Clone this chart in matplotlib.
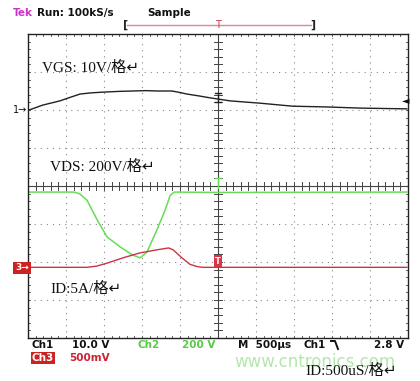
import matplotlib.pyplot as plt
import numpy as np

# screen divisions: x 0..10, y -4..4 (centre = 0)
vgs_x = [0.03, 0.39, 0.84, 1.10, 1.37, 1.65, 1.97, 2.40, 2.76, 3.10, 3.39, 3.79, 4.00, 4.18, 4.50, 4.79,
         5.32, 6.10, 6.97, 7.87, 8.74, 9.97]
vgs_y = [2.00, 2.13, 2.24, 2.33, 2.42, 2.45, 2.47, 2.49, 2.50, 2.51, 2.50, 2.50, 2.46, 2.42, 2.37, 2.32,
         2.24, 2.18, 2.10, 2.08, 2.05, 2.03]

vds_x = [0.03, 1.20, 1.35, 1.55, 1.82, 2.08, 2.42, 2.76, 2.95, 3.13, 3.39, 3.61, 3.74, 3.85, 5.0, 9.97]
vds_y = [-0.16, -0.16, -0.20, -0.37, -0.89, -1.34, -1.60, -1.82, -1.89, -1.74, -1.16, -0.63, -0.25, -0.16,
         -0.17, -0.16]

id_x = [0.03, 1.55, 1.80, 2.08, 2.50, 2.95, 3.39, 3.70, 3.82, 4.05, 4.26, 4.45, 4.60, 9.97]
id_y = [-2.14, -2.14, -2.11, -2.03, -1.89, -1.76, -1.68, -1.63, -1.68, -1.89, -2.06, -2.12, -2.14, -2.14]

W, H = 420, 381
fig = plt.figure(figsize=(W / 100, H / 100), dpi=100)
fig.patch.set_facecolor('white')


def px(x, y):
    return x / W, 1 - y / H


L, R, T, B = 28, 408, 34, 338
ax = fig.add_axes([L / W, 1 - B / H, (R - L) / W, (B - T) / H])
ax.set_xlim(0, 10)
ax.set_ylim(-4, 4)
ax.set_xticks([])
ax.set_yticks([])
for s in ax.spines.values():
    s.set_color('#222222')
    s.set_linewidth(1.0)

grid_c = '#888888'
for i in range(1, 10):
    ax.plot([i, i], [-4, 4], color=grid_c, lw=0.8, ls=(0, (1, 4.5)))
for j in range(-3, 4):
    ax.plot([0, 10], [j, j], color=grid_c, lw=0.8, ls=(0, (1, 4.5)))

# centre axes with minor ticks
ax.plot([0, 10], [0, 0], color='#444444', lw=0.8)
ax.plot([5, 5], [-4, 4], color='#444444', lw=0.8)
for t in np.arange(0.2, 10, 0.2):
    ax.plot([t, t], [-0.1, 0.1], color='#444444', lw=0.7)
    ax.plot([t, t], [4, 3.94], color='#444444', lw=0.6)
    ax.plot([t, t], [-4, -3.94], color='#444444', lw=0.6)
for t in np.arange(-3.8, 4, 0.2):
    ax.plot([4.9, 5.1], [t, t], color='#444444', lw=0.7)
    ax.plot([0, 0.06], [t, t], color='#444444', lw=0.6)
    ax.plot([10, 9.94], [t, t], color='#444444', lw=0.6)

ax.plot(vds_x, vds_y, color='#66dd55', lw=1.1)
ax.plot(id_x, id_y, color='#cc3344', lw=1.0)
ax.plot(vgs_x, vgs_y, color='#222222', lw=1.0)

# trace markers
ax.plot([5, 5], [2.2, 2.45], color='#222222', lw=1.0)
ax.plot([4.92, 5.08], [2.45, 2.45], color='#222222', lw=1.0)
ax.plot([4.92, 5.08], [2.2, 2.2], color='#222222', lw=1.0)
ax.plot([5, 5], [-0.05, 0.2], color='#66dd55', lw=1.0)
ax.plot([4.92, 5.08], [0.2, 0.2], color='#66dd55', lw=1.0)
ax.text(5, -1.98, 'T', color='white', fontsize=6, weight='bold', ha='center', va='center',
        bbox=dict(boxstyle='square,pad=0.15', fc='#dd3344', ec='none'))

sans = 'DejaVu Sans'
txt = dict(fontsize=7.5, weight='bold', va='center', family=sans)

# header
fig.text(*px(13, 13), 'Tek', color='#cc33cc', **txt)
fig.text(*px(37, 13), 'Run: 100kS/s', color='#111111', **txt)
fig.text(*px(147, 13), 'Sample', color='#111111', **txt)
fig.add_artist(plt.Line2D([127 / W, 311 / W], [1 - 25 / H] * 2, color='#e08890', lw=1.0))
fig.text(*px(123, 25), '[', color='#222222', fontsize=8, weight='bold', va='center', family=sans)
fig.text(*px(310, 25), ']', color='#222222', fontsize=8, weight='bold', va='center', family=sans)
fig.text(*px(218, 25), 'T', color='#cc3344', fontsize=7, ha='center', va='center', family=sans)

# channel markers
fig.text(*px(13, 110), '1\u2192', color='#111111', fontsize=7, va='center', family=sans)
fig.text(*px(15, 268), '3\u2192', color='white', fontsize=6.5, weight='bold', va='center', family=sans,
         bbox=dict(boxstyle='square,pad=0.2', fc='#cc2222', ec='none'))
fig.text(*px(409, 100), '\u25c4', color='#111111', fontsize=7, ha='right', va='center', family=sans)

# overlay notes
cn = ['Liberation Serif', 'Noto Sans CJK SC', 'DejaVu Sans']
note = dict(fontsize=11, va='center', family=cn, color='#111111')
fig.text(*px(42, 68), 'VGS: 10V/格\u21b5', **note)
fig.text(*px(50, 167), 'VDS: 200V/格\u21b5', **note)
fig.text(*px(50, 289), 'ID:5A/格\u21b5', **note)

# status line
fig.text(*px(32, 345), 'Ch1', color='#111111', **txt)
fig.text(*px(72, 345), '10.0 V', color='#111111', **txt)
fig.text(*px(137, 345), 'Ch2', color='#55cc44', **txt)
fig.text(*px(182, 345), '200 V', color='#55cc44', **txt)
fig.text(*px(238, 345), 'M  500\u00b5s', color='#111111', **txt)
fig.text(*px(303, 345), 'Ch1', color='#111111', **txt)
# falling-edge trigger symbol (no font has it)
fig.add_artist(plt.Line2D([331 / W, 335 / W, 338 / W], [1 - 341 / H, 1 - 341 / H, 1 - 349 / H],
                          color='#111111', lw=1.4))
fig.text(*px(374, 345), '2.8 V', color='#111111', **txt)
fig.text(*px(32, 358), 'Ch3', color='white', fontsize=7.5, weight='bold', va='center', family=sans,
         bbox=dict(boxstyle='square,pad=0.1', fc='#cc2222', ec='none'))
fig.text(*px(69, 358), '500mV', color='#cc2233', **txt)

fig.text(*px(234, 362), 'www.cntronics.com', color='#b5e6ae', fontsize=12, va='center', family=sans)
fig.text(*px(305, 371), 'ID:500uS/格\u21b5', **note)

fig.savefig('out.png', dpi=100)
